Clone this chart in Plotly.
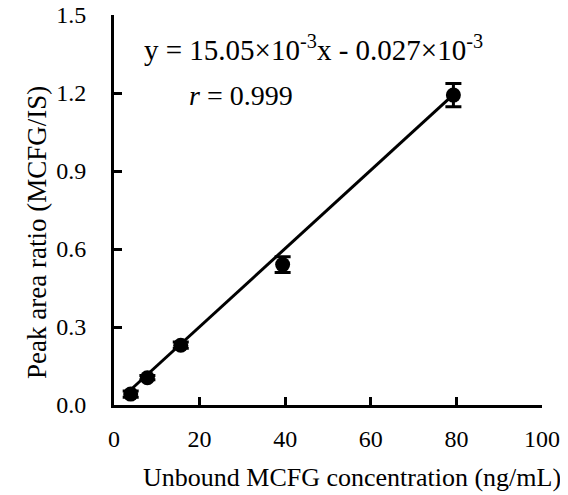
import plotly.graph_objects as go

# Data
conc = [3.9, 7.8, 15.6, 39.4, 79.3]
ratio = [0.042, 0.105, 0.23, 0.54, 1.192]
ratio_sd = [0.012, 0.008, 0.012, 0.03, 0.045]
slope = 15.05e-3
intercept = -0.027e-3
x_ticks = [0, 20, 40, 60, 80, 100]
y_ticks = [0.0, 0.3, 0.6, 0.9, 1.2, 1.5]
y_tick_text = ["0.0", "0.3", "0.6", "0.9", "1.2", "1.5"]
x_title = "Unbound MCFG concentration (ng/mL)"
y_title = "Peak area ratio (MCFG/IS)"

FONT = "Liberation Serif, Times New Roman, serif"

fit_x = [conc[0], conc[-1]]
fit_y = [slope * v + intercept for v in fit_x]

fig = go.Figure()
fig.add_trace(go.Scatter(x=fit_x, y=fit_y, mode="lines",
                         line=dict(color="black", width=3), showlegend=False,
                         hoverinfo="skip"))
fig.add_trace(go.Scatter(
    x=conc, y=ratio, mode="markers",
    marker=dict(color="black", size=15),
    error_y=dict(type="data", array=ratio_sd, color="black", thickness=3, width=8),
    showlegend=False))

fig.add_annotation(x=6.6, y=1.375, xref="x", yref="y", showarrow=False,
                   xanchor="left", yanchor="middle",
                   text="y = 15.05\u00d710<sup>-3</sup>x - 0.027\u00d710<sup>-3</sup>",
                   font=dict(family=FONT, size=29, color="black"))
fig.add_annotation(x=29.7, y=1.19, xref="x", yref="y", showarrow=False,
                   xanchor="center", yanchor="middle",
                   text="<i>r</i> = 0.999",
                   font=dict(family=FONT, size=28, color="black"))
fig.add_annotation(x=0.556, y=-0.187, xref="paper", yref="paper", showarrow=False,
                   xanchor="center", yanchor="middle", text=x_title,
                   font=dict(family=FONT, size=26, color="black"))
fig.add_annotation(x=-0.18, y=0.4436, xref="paper", yref="paper", showarrow=False,
                   xanchor="center", yanchor="middle", text=y_title, textangle=-90,
                   font=dict(family=FONT, size=27, color="black"))

fig.update_layout(
    width=568, height=495,
    margin=dict(l=106, r=34, t=7, b=98, autoexpand=False),
    paper_bgcolor="white", plot_bgcolor="white",
    font=dict(family=FONT, size=24, color="black"),
)
fig.update_xaxes(range=[0, 100], tickvals=x_ticks, showgrid=False, zeroline=False,
                 showline=True, linecolor="black", linewidth=3,
                 ticks="inside", ticklen=8, tickwidth=3, tickcolor="black",
                 ticklabelstandoff=10, ticklabeloverflow="allow", automargin=False)
fig.update_yaxes(range=[0, 1.5], tickvals=y_ticks, ticktext=y_tick_text,
                 showgrid=False, zeroline=False,
                 showline=True, linecolor="black", linewidth=3,
                 ticks="inside", ticklen=8, tickwidth=3, tickcolor="black",
                 ticklabelstandoff=20, ticklabeloverflow="allow", automargin=False)

fig.write_html("out.html")
